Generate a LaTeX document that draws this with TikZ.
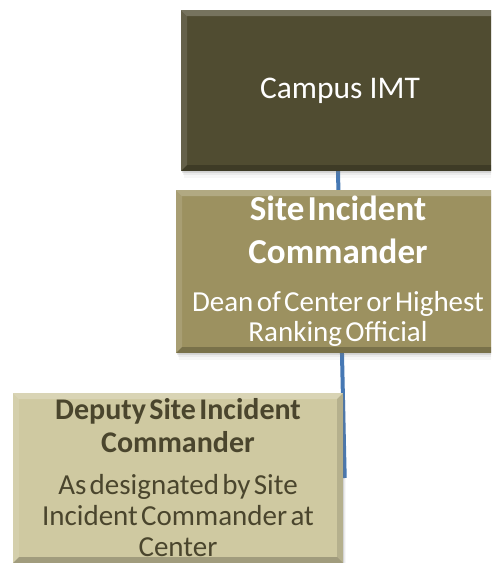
\documentclass[tikz,border=0pt]{standalone}
\usepackage{fontspec}
\setmainfont{Carlito}
\usetikzlibrary{shadows,backgrounds}
\definecolor{imtfill}{RGB}{80,76,49}
\definecolor{sicfill}{RGB}{156,145,96}
\definecolor{dsicfill}{RGB}{207,201,161}
\definecolor{dsictext}{RGB}{74,69,45}
\definecolor{linkblue}{RGB}{70,120,180}
\tikzset{
  bevel/.style={path picture={
    \fill[white,opacity=0.22] (path picture bounding box.north west) -- (path picture bounding box.north east) -- ([xshift=-6pt,yshift=-6pt]path picture bounding box.north east) -- ([xshift=6pt,yshift=-6pt]path picture bounding box.north west) -- cycle;
    \fill[white,opacity=0.12] (path picture bounding box.north west) -- (path picture bounding box.south west) -- ([xshift=6pt,yshift=6pt]path picture bounding box.south west) -- ([xshift=6pt,yshift=-6pt]path picture bounding box.north west) -- cycle;
    \fill[black,opacity=0.22] (path picture bounding box.south west) -- (path picture bounding box.south east) -- ([xshift=-6pt,yshift=6pt]path picture bounding box.south east) -- ([xshift=6pt,yshift=6pt]path picture bounding box.south west) -- cycle;
    \fill[black,opacity=0.12] (path picture bounding box.north east) -- (path picture bounding box.south east) -- ([xshift=-6pt,yshift=6pt]path picture bounding box.south east) -- ([xshift=-6pt,yshift=-6pt]path picture bounding box.north east) -- cycle;
  }},
  orgbox/.style={rectangle, inner sep=0pt, align=center, bevel,
    drop shadow={shadow xshift=1pt,shadow yshift=-2pt,opacity=.18},
    drop shadow={shadow xshift=2pt,shadow yshift=-4pt,opacity=.10},
    drop shadow={shadow xshift=3pt,shadow yshift=-7pt,opacity=.06}},
  link/.style={draw=linkblue, line width=4pt}
}
\begin{document}
\begin{tikzpicture}[x=1pt,y=-1pt]
\useasboundingbox (0,0) rectangle (491,563);
\clip (0,0) rectangle (491,563);
\node[orgbox, fill=imtfill, text=white, minimum width=318pt, minimum height=161pt,
  font=\fontsize{31.5}{36}\selectfont] (imt) at (340,90.5) {Campus IMT};
\node[orgbox, fill=sicfill, text=white, minimum width=324pt, minimum height=163pt, text width=318pt] (sic) at (338,271.5)
  {\vspace*{6pt}\fontsize{35}{37}\selectfont\bfseries Site Incident\\Commander\par\vspace{18pt}%
   \fontsize{29}{30}\selectfont\mdseries Dean of Center or Highest\\Ranking Official\par};
\node[orgbox, fill=dsicfill, text=dsictext, minimum width=330pt, minimum height=170pt, text width=324pt] (dsic) at (178,478)
  {\fontsize{30}{33}\selectfont\bfseries Deputy Site Incident\\Commander\par\vspace{11pt}%
   \fontsize{29}{31}\selectfont\mdseries As designated by Site\\Incident Commander at\\Center\par};
\coordinate (dsicjoin) at ([xshift=1.5pt]dsic.east);
\begin{scope}[on background layer]
\fill[white] (0,0) rectangle (491,563);
\draw[link] ([xshift=-2pt]imt.south) -- (dsicjoin);
\end{scope}
\end{tikzpicture}
\end{document}
